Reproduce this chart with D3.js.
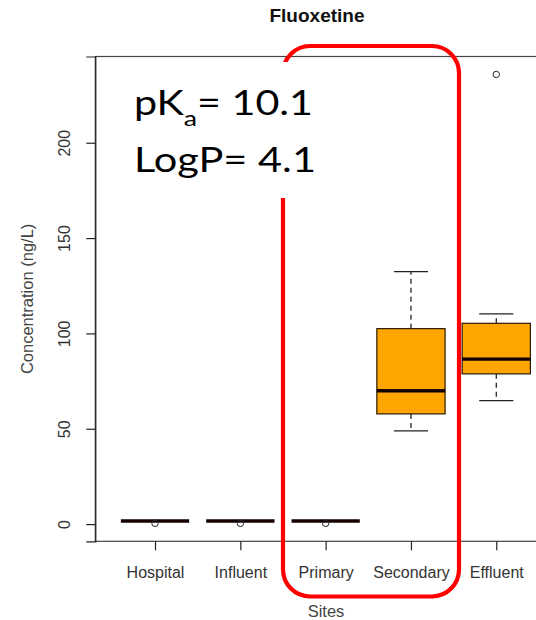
<!DOCTYPE html>
<html>
<head>
<meta charset="utf-8">
<script src="https://cdn.jsdelivr.net/npm/d3@7"></script>
<style>
  html, body { margin: 0; padding: 0; background: #fff; }
  svg { display: block; }
</style>
</head>
<body>
<script>
// Fluoxetine concentrations by sampling site (ng/L)
const sites        = ["Hospital", "Influent", "Primary", "Secondary", "Effluent"];
const whiskerLow   = [1.6, 1.6, 1.6, 48.9, 64.8];
const quartile1    = [1.6, 1.6, 1.6, 57.8, 78.8];
const medians      = [1.6, 1.6, 1.6, 69.9, 86.5];
const quartile3    = [1.6, 1.6, 1.6, 102.5, 105.3];
const whiskerHigh  = [1.6, 1.6, 1.6, 132.4, 110.2];
const outliers     = [[0.4], [0.4], [0.4], [], [235.8]];
const yTicks       = [0, 50, 100, 150, 200];
const annotation   = { pKa: "10.1", logP: "4.1" };

const W = 536, H = 620;
const plot = { left: 95.3, right: 556, top: 56.5, bottom: 541.3 };

const svg = d3.select("body").append("svg")
  .attr("width", W).attr("height", H);

// y range padded by 4% on each side of the data extent
const allVals = [].concat(whiskerLow, whiskerHigh, ...outliers);
const [lo, hi] = d3.extent(allVals);
const pad = (hi - lo) * 0.04;
const y = d3.scaleLinear().domain([lo - pad, hi + pad]).range([plot.bottom, plot.top]);
const x = d3.scalePoint().domain(sites).range([plot.left, plot.right]).padding(0.7);
const step = x.step();
const boxW = step * 0.8;
const capW = boxW * 0.5;

const font = "'Liberation Sans', Arial, sans-serif";

// title
svg.append("text")
  .attr("x", 317).attr("y", 22)
  .attr("text-anchor", "middle")
  .attr("font-family", font).attr("font-weight", "bold")
  .attr("font-size", 19).attr("fill", "#111")
  .text("Fluoxetine");

// plot frame
svg.append("rect")
  .attr("x", plot.left).attr("y", plot.top)
  .attr("width", plot.right - plot.left).attr("height", plot.bottom - plot.top)
  .attr("fill", "none").attr("stroke", "#444").attr("stroke-width", 1.2);

// y axis
const yAxis = d3.axisLeft(y).tickValues(yTicks).tickSize(9).tickPadding(0).tickFormat(d3.format("d"));
const gy = svg.append("g").attr("transform", `translate(${plot.left},0)`).call(yAxis);
gy.select(".domain").attr("stroke", "#222").attr("stroke-width", 1.2);
gy.selectAll(".tick line").attr("stroke", "#222").attr("stroke-width", 1.2);
gy.selectAll(".tick text")
  .attr("font-family", font).attr("font-size", 16).attr("fill", "#333")
  .attr("text-anchor", "middle").attr("dy", 0)
  .attr("x", 0).attr("y", 0)
  .attr("transform", "translate(-25,0) rotate(-90)");

// x axis
const xAxis = d3.axisBottom(x).tickSize(9).tickPadding(0);
const gx = svg.append("g").attr("transform", `translate(0,${plot.bottom})`).call(xAxis);
gx.select(".domain").remove();
gx.selectAll(".tick line").attr("stroke", "#222").attr("stroke-width", 1.2);
gx.selectAll(".tick text")
  .attr("font-family", font).attr("font-size", 16).attr("fill", "#333")
  .attr("dy", 0).attr("y", 37);

// axis titles
svg.append("text")
  .attr("x", 326).attr("y", 617)
  .attr("text-anchor", "middle")
  .attr("font-family", font).attr("font-size", 16.5).attr("fill", "#444")
  .text("Sites");
svg.append("text")
  .attr("transform", `translate(33,${(plot.top + plot.bottom) / 2}) rotate(-90)`)
  .attr("text-anchor", "middle")
  .attr("font-family", font).attr("font-size", 16.5).attr("fill", "#444")
  .text("Concentration (ng/L)");

// boxes
const boxes = svg.append("g");
sites.forEach((s, i) => {
  const cx = x(s);
  const g = boxes.append("g");
  // whiskers
  [[quartile3[i], whiskerHigh[i]], [quartile1[i], whiskerLow[i]]].forEach(([a, b]) => {
    g.append("line")
      .attr("x1", cx).attr("x2", cx).attr("y1", y(a)).attr("y2", y(b))
      .attr("stroke", "#111").attr("stroke-width", 1.2).attr("stroke-dasharray", "5,4");
    g.append("line")
      .attr("x1", cx - capW / 2).attr("x2", cx + capW / 2).attr("y1", y(b)).attr("y2", y(b))
      .attr("stroke", "#222").attr("stroke-width", 1.2);
  });
  // box
  g.append("rect")
    .attr("x", cx - boxW / 2).attr("width", boxW)
    .attr("y", y(quartile3[i])).attr("height", y(quartile1[i]) - y(quartile3[i]))
    .attr("fill", "#FFA500").attr("stroke", "#2a1a00").attr("stroke-width", 1.2);
  // median
  g.append("line")
    .attr("x1", cx - boxW / 2).attr("x2", cx + boxW / 2)
    .attr("y1", y(medians[i])).attr("y2", y(medians[i]))
    .attr("stroke", "#140000").attr("stroke-width", 3.4);
  // outliers
  outliers[i].forEach(v => {
    g.append("circle")
      .attr("cx", cx).attr("cy", y(v)).attr("r", 3.2)
      .attr("fill", "none").attr("stroke", "#222").attr("stroke-width", 1);
  });
});

// highlight frame around the treatment stages
const fr = { x0: 283, x1: 459, y0: 46, y1: 596.5, r: 27 };
svg.append("rect")
  .attr("x", fr.x0).attr("y", fr.y0)
  .attr("width", fr.x1 - fr.x0).attr("height", fr.y1 - fr.y0)
  .attr("rx", fr.r).attr("ry", fr.r)
  .attr("fill", "none").attr("stroke", "#ff0000").attr("stroke-width", 4.2);

// property annotation on a white panel (glyphs stretched a little wider)
svg.append("rect")
  .attr("x", 125).attr("y", 62).attr("width", 205).attr("height", 136)
  .attr("fill", "#fff");
const annFont = "Lato, 'Open Sans', sans-serif";
const t1 = svg.append("text")
  .attr("x", 134).attr("y", 115)
  .attr("font-family", annFont).attr("font-size", 34).attr("fill", "#000")
  .attr("textLength", 179).attr("lengthAdjust", "spacingAndGlyphs");
t1.append("tspan").text("pK");
t1.append("tspan").attr("font-size", 22).attr("dy", 11).text("a");
t1.append("tspan").attr("dy", -11).text("= " + annotation.pKa);
svg.append("text")
  .attr("x", 134).attr("y", 172)
  .attr("font-family", annFont).attr("font-size", 34).attr("fill", "#000")
  .attr("textLength", 182).attr("lengthAdjust", "spacingAndGlyphs")
  .text("LogP= " + annotation.logP);
</script>
</body>
</html>
